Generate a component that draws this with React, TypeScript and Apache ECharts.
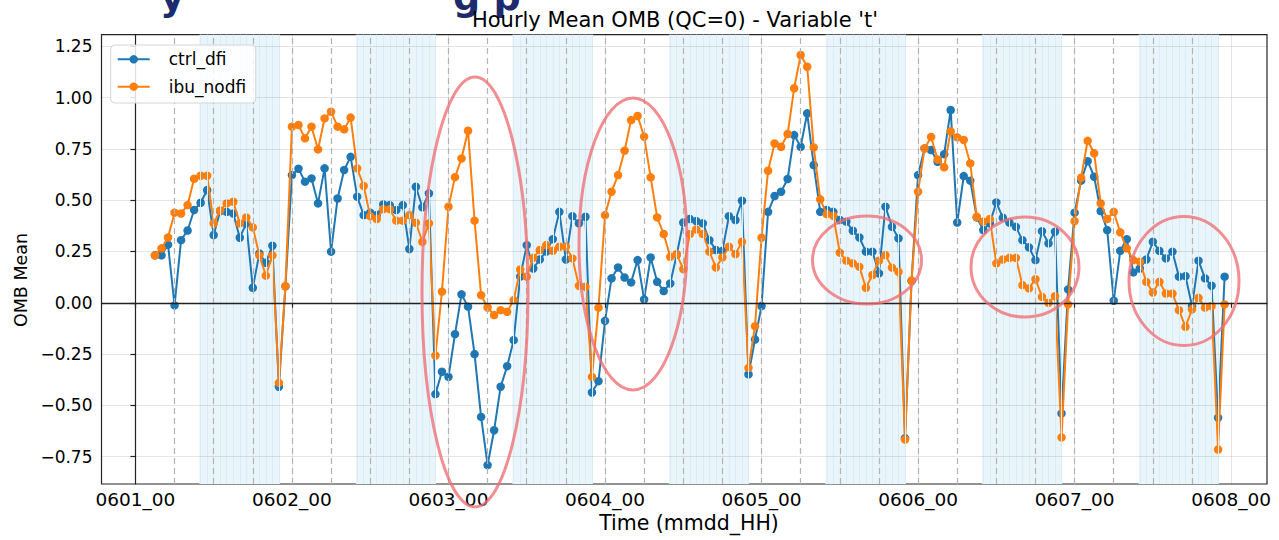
import React, { useEffect, useRef } from "react";
import * as echarts from "echarts";

// ---------- DATA ----------
const START_HOUR = 3; // first sample = 0601_03, hourly afterwards

const CTRL_DFI = [
  0.231, 0.231, 0.283, -0.013, 0.305, 0.352, 0.452, 0.487, 0.549, 0.33,
  0.447, 0.443, 0.435, 0.317, 0.387, 0.073, 0.24, 0.195, 0.278, -0.409,
  0.08, 0.622, 0.653, 0.59, 0.606, 0.484, 0.655, 0.249, 0.508, 0.647,
  0.711, 0.517, 0.427, 0.439, 0.427, 0.479, 0.476, 0.452, 0.476, 0.262,
  0.565, 0.465, 0.533, -0.445, -0.336, -0.361, -0.153, 0.041, -0.019, -0.25,
  -0.556, -0.791, -0.621, -0.409, -0.309, -0.182, 0.127, 0.281, 0.167, 0.211,
  0.25, 0.31, 0.443, 0.211, 0.422, 0.387, 0.419, -0.437, -0.382, -0.088,
  0.119, 0.172, 0.123, 0.099, 0.208, 0.016, 0.221, 0.102, 0.057, 0.094,
  0.235, 0.391, 0.408, 0.398, 0.387, 0.305, 0.257, 0.253, 0.422, 0.403,
  0.497, -0.349, -0.179, -0.016, 0.443, 0.52, 0.541, 0.603, 0.817, 0.76,
  0.923, 0.671, 0.443, 0.452, 0.443, 0.403, 0.395, 0.351, 0.318, 0.249,
  0.249, 0.143, 0.468, 0.37, 0.314, -0.66, 0.107, 0.622, 0.752, 0.744,
  0.687, 0.724, 0.939, 0.391, 0.617, 0.595, 0.416, 0.354, 0.387, 0.489,
  0.414, 0.391, 0.37, 0.305, 0.27, 0.208, 0.349, 0.289, 0.346, -0.539,
  0.065, 0.439, 0.595, 0.69, 0.614, 0.447, 0.354, 0.01, 0.253, 0.31,
  0.148, 0.167, 0.211, 0.297, 0.253, 0.216, 0.249, 0.127, 0.13, -0.016,
  0.205, 0.119, 0.083, -0.56, 0.127,
];

const IBU_NODFI = [
  0.231, 0.265, 0.318, 0.439, 0.435, 0.476, 0.604, 0.619, 0.619, 0.387,
  0.45, 0.484, 0.492, 0.387, 0.416, 0.367, 0.231, 0.132, 0.231, -0.39,
  0.081, 0.858, 0.866, 0.801, 0.858, 0.747, 0.898, 0.931, 0.858, 0.845,
  0.902, 0.655, 0.569, 0.422, 0.408, 0.456, 0.456, 0.4, 0.4, 0.427,
  0.39, 0.297, 0.387, -0.257, 0.054, 0.468, 0.612, 0.703, 0.838, 0.4,
  0.037, -0.023, -0.06, -0.036, -0.044, 0.013, 0.162, 0.127, 0.219, 0.257,
  0.281, 0.253, 0.273, 0.273, 0.216, 0.083, 0.078, -0.361, -0.024, 0.427,
  0.541, 0.622, 0.741, 0.89, 0.91, 0.809, 0.611, 0.416, 0.335, 0.224,
  0.237, 0.164, 0.335, 0.357, 0.335, 0.249, 0.172, 0.221, 0.273, 0.237,
  0.297, -0.317, -0.114, 0.317, 0.643, 0.776, 0.76, 0.822, 1.045, 1.207,
  1.15, 0.757, 0.504, 0.432, 0.424, 0.244, 0.205, 0.192, 0.175, 0.073,
  0.135, 0.205, 0.232, 0.171, 0.151, -0.666, 0.107, 0.541, 0.752, 0.808,
  0.698, 0.66, 0.835, 0.806, 0.793, 0.679, 0.419, 0.395, 0.408, 0.192,
  0.211, 0.219, 0.219, 0.086, 0.07, 0.115, 0.029, 0.0, 0.032, -0.656,
  -0.008, 0.398, 0.609, 0.789, 0.728, 0.484, 0.408, 0.443, 0.343, 0.265,
  0.208, 0.2, 0.102, 0.05, 0.102, 0.045, 0.045, -0.036, -0.117, -0.032,
  0.024, -0.024, -0.016, -0.715, -0.008,
];

const TICK_HOURS = [0, 24, 48, 72, 96, 120, 144, 168];
const TICK_LABELS = ["0601_00", "0602_00", "0603_00", "0604_00", "0605_00", "0606_00", "0607_00", "0608_00"];
const Y_TICKS = [-0.75, -0.5, -0.25, 0, 0.25, 0.5, 0.75, 1.0, 1.25];
// shaded daytime windows (hours since 0601_00)
const DAY_BANDS = [
  [9.8, 22.1], [33.8, 46.1], [57.8, 70.1], [81.8, 94.1],
  [105.8, 118.1], [129.8, 142.1], [153.8, 166.1],
];
const SIX_HOUR_MARKS = [
  6, 12, 18, 24, 30, 36, 42, 48, 54, 60, 66, 72, 78, 84, 90, 96, 102, 108,
  114, 120, 126, 132, 138, 144, 150, 156, 162,
];
const SERIES_NAMES = ["ctrl_dfi", "ibu_nodfi"];

// ---------- STYLE ----------
const FONT = "DejaVu Sans";
const BLUE = "#1f77b4";
const ORANGE = "#ff7f0e";
const X_MIN = -5.2;
const X_MAX = 173.5;
const Y_MIN = -0.883;
const Y_MAX = 1.306;

function fmtY(v: number) {
  const s = Math.abs(v).toFixed(2);
  return v < 0 ? "\u2212" + s : s;
}

function buildOption() {
  const hours = CTRL_DFI.map((_, i) => START_HOUR + i);
  const ctrl = hours.map((h, i) => [h, CTRL_DFI[i]]);
  const ibu = hours.map((h, i) => [h, IBU_NODFI[i]]);

  const stripes: any[] = [];
  DAY_BANDS.forEach(([a, b]) => {
    for (let h = Math.ceil(a); h <= Math.floor(b); h++) stripes.push({ xAxis: h });
  });

  const helperBase = {
    type: "line",
    data: [[0, 0], [1, 0]],
    showSymbol: false,
    symbol: "none",
    lineStyle: { opacity: 0 },
    silent: true,
    tooltip: { show: false },
  };
  const ml = (data: any[], lineStyle: any) => ({
    symbol: ["none", "none"],
    silent: true,
    label: { show: false },
    emphasis: { disabled: true },
    lineStyle,
    data,
    animation: false,
  });

  const LX = 110.7;
  const LY = 45;
  const legendRow = (y: number, color: string, name: string) => [
    {
      type: "line",
      z: 31,
      shape: { x1: LX + 7, y1: LY + y, x2: LX + 39, y2: LY + y },
      style: { stroke: color, lineWidth: 2 },
    },
    { type: "circle", z: 32, shape: { cx: LX + 23, cy: LY + y, r: 4.2 }, style: { fill: color } },
    {
      type: "text",
      z: 32,
      x: LX + 58,
      y: LY + y,
      style: { text: name, fontFamily: FONT, fontSize: 17, fill: "#000", verticalAlign: "middle", align: "left" },
    },
  ];

  const ellipseStyle = { stroke: "rgba(238,110,115,0.78)", lineWidth: 3, fill: "none" };

  return {
    animation: false,
    backgroundColor: "#ffffff",
    textStyle: { fontFamily: FONT },
    grid: {
      left: 101.5,
      right: 12,
      top: 34.7,
      bottom: 56,
      show: true,
      borderColor: "#262626",
      borderWidth: 1.2,
      backgroundColor: "transparent",
    },
    xAxis: {
      type: "value",
      min: X_MIN,
      max: X_MAX,
      splitLine: { show: false },
      axisLine: { show: true, lineStyle: { color: "#262626", width: 1.2 } },
      axisTick: { show: true, customValues: TICK_HOURS, length: 5, lineStyle: { color: "#262626", width: 1.2 } },
      axisLabel: {
        customValues: TICK_HOURS,
        formatter: (v: number) => TICK_LABELS[TICK_HOURS.indexOf(Math.round(v))] ?? "",
        fontFamily: FONT,
        fontSize: 18.5,
        color: "#000",
        margin: 6,
      },
    },
    yAxis: {
      type: "value",
      min: Y_MIN,
      max: Y_MAX,
      splitLine: { show: false },
      axisLine: { show: true, lineStyle: { color: "#262626", width: 1.2 } },
      axisTick: { show: true, customValues: Y_TICKS, length: 5, lineStyle: { color: "#262626", width: 1.2 } },
      axisLabel: {
        customValues: Y_TICKS,
        formatter: (v: number) => fmtY(v),
        fontFamily: FONT,
        fontSize: 17,
        color: "#000",
        margin: 9,
      },
    },
    series: [
      {
        ...helperBase,
        name: "bands",
        z: 1,
        markArea: {
          silent: true,
          itemStyle: { color: "#e9f5fa" },
          emphasis: { disabled: true },
          label: { show: false },
          data: DAY_BANDS.map(([a, b]) => [{ xAxis: a }, { xAxis: b }]),
        },
        markLine: ml(stripes, { color: "#d8edf6", width: 1, type: "solid" }),
      },
      {
        ...helperBase,
        name: "grid",
        z: 2,
        markLine: ml(
          [...TICK_HOURS.map((h) => ({ xAxis: h })), ...Y_TICKS.map((v) => ({ yAxis: v }))],
          { color: "rgba(0,0,0,0.1)", width: 1, type: "solid" }
        ),
      },
      {
        ...helperBase,
        name: "dash",
        z: 2,
        markLine: ml(SIX_HOUR_MARKS.map((h) => ({ xAxis: h })), { color: "#b3b3b3", width: 1.2, type: [6, 4] }),
      },
      {
        ...helperBase,
        name: "zero",
        z: 2,
        markLine: ml([{ yAxis: 0 }], { color: "#222222", width: 1.3, type: "solid" }),
      },
      {
        name: SERIES_NAMES[0],
        type: "line",
        z: 3,
        data: ctrl,
        symbol: "circle",
        symbolSize: 8.5,
        showAllSymbol: true,
        lineStyle: { color: BLUE, width: 2 },
        itemStyle: { color: BLUE },
      },
      {
        name: SERIES_NAMES[1],
        type: "line",
        z: 4,
        data: ibu,
        symbol: "circle",
        symbolSize: 8.5,
        showAllSymbol: true,
        lineStyle: { color: ORANGE, width: 2 },
        itemStyle: { color: ORANGE },
      },
    ],
    graphic: [
      // cut-off slide heading above the chart
      {
        type: "text",
        x: 160,
        y: 16,
        z: 10,
        style: { text: "y", fontFamily: FONT, fontWeight: "bold", fontSize: 38, fill: "#1b2b6e", verticalAlign: "bottom" },
      },
      {
        type: "text",
        x: 453,
        y: 16,
        z: 10,
        style: { text: "g p", fontFamily: FONT, fontWeight: "bold", fontSize: 38, fill: "#1b2b6e", verticalAlign: "bottom" },
      },
      {
        type: "text",
        x: 675,
        y: 20,
        z: 11,
        style: {
          text: "Hourly Mean OMB (QC=0) - Variable 't'",
          fontFamily: FONT,
          fontSize: 21,
          fill: "#000",
          align: "center",
          verticalAlign: "middle",
        },
      },
      {
        type: "text",
        x: 689,
        y: 523,
        style: { text: "Time (mmdd_HH)", fontFamily: FONT, fontSize: 20.5, fill: "#000", align: "center", verticalAlign: "middle" },
      },
      {
        type: "text",
        x: 21,
        y: 280,
        rotation: Math.PI / 2,
        style: { text: "OMB Mean", fontFamily: FONT, fontSize: 17.5, fill: "#000", align: "center", verticalAlign: "middle" },
      },
      {
        type: "rect",
        z: 30,
        shape: { x: LX, y: LY, width: 145, height: 58, r: 4 },
        style: { fill: "rgba(255,255,255,0.85)", stroke: "#d5d5d5", lineWidth: 1 },
      },
      ...legendRow(14.3, BLUE, SERIES_NAMES[0]),
      ...legendRow(41.7, ORANGE, SERIES_NAMES[1]),
      { type: "ellipse", z: 15, silent: true, shape: { cx: 475, cy: 292, rx: 53, ry: 215 }, style: ellipseStyle },
      { type: "ellipse", z: 15, silent: true, shape: { cx: 633, cy: 244, rx: 54, ry: 146 }, style: ellipseStyle },
      { type: "ellipse", z: 15, silent: true, shape: { cx: 867, cy: 260, rx: 54.5, ry: 44 }, style: ellipseStyle },
      { type: "ellipse", z: 15, silent: true, shape: { cx: 1025, cy: 267, rx: 54, ry: 50 }, style: ellipseStyle },
      { type: "ellipse", z: 15, silent: true, shape: { cx: 1184, cy: 281, rx: 55, ry: 64.5 }, style: ellipseStyle },
    ],
  };
}

export default function App() {
  const ref = useRef<HTMLDivElement>(null);
  useEffect(() => {
    document.body.style.margin = "0";
    if (!ref.current) return;
    const chart = echarts.init(ref.current, null, { renderer: "svg" });
    chart.setOption(buildOption() as any);
    return () => chart.dispose();
  }, []);
  return <div ref={ref} style={{ position: "absolute", left: 0, top: 0, width: 1279, height: 540 }} />;
}
